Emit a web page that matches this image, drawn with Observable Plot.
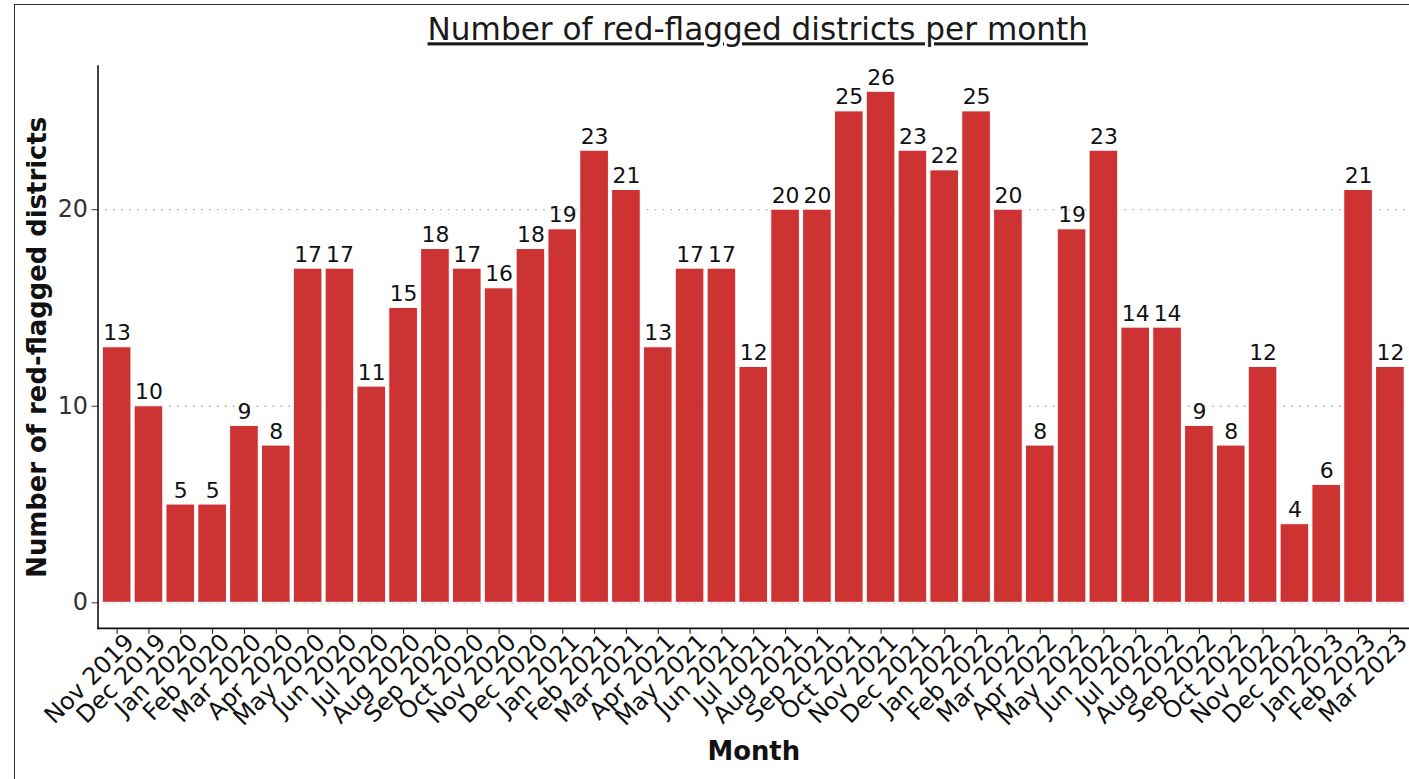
<!DOCTYPE html>
<html><head><meta charset="utf-8">
<script src="https://cdn.jsdelivr.net/npm/d3@7"></script>
<script src="https://cdn.jsdelivr.net/npm/@observablehq/plot@0.6"></script>
<style>
html,body{margin:0;padding:0;background:#fff;overflow:hidden;}
#wrap{position:relative;width:1409px;height:779px;overflow:hidden;background:#fff;}
#chart{position:absolute;left:0;top:0;}
#border{position:absolute;left:14px;top:4px;width:1500px;height:900px;border-left:1.5px solid #333;border-top:1.5px solid #333;pointer-events:none;}
</style></head>
<body><div id="wrap"><div id="chart"></div><div id="border"></div></div>
<script>
const months = ["Nov 2019","Dec 2019","Jan 2020","Feb 2020","Mar 2020","Apr 2020","May 2020","Jun 2020","Jul 2020","Aug 2020","Sep 2020","Oct 2020","Nov 2020","Dec 2020","Jan 2021","Feb 2021","Mar 2021","Apr 2021","May 2021","Jun 2021","Jul 2021","Aug 2021","Sep 2021","Oct 2021","Nov 2021","Dec 2021","Jan 2022","Feb 2022","Mar 2022","Apr 2022","May 2022","Jun 2022","Jul 2022","Aug 2022","Sep 2022","Oct 2022","Nov 2022","Dec 2022","Jan 2023","Feb 2023","Mar 2023"];
const counts = [13,10,5,5,9,8,17,17,11,15,18,17,16,18,19,23,21,13,17,17,12,20,20,25,26,23,22,25,20,8,19,23,14,14,9,8,12,4,6,21,12];
const yTicks = [0,10,20];
const title = "Number of red-flagged districts per month";
const yTitle = "Number of red-flagged districts";
const xTitle = "Month";
const barColor = "#cd3333";

const data = months.map((m, i) => ({month: m, count: counts[i]}));
const maxV = d3.max(counts);

const chart = Plot.plot({
  width: 1416, height: 779,
  marginLeft: 98, marginRight: 0, marginTop: 66, marginBottom: 148,
  style: {fontFamily: "DejaVu Sans", background: "white", overflow: "visible", color: "#111"},
  x: {domain: months, paddingInner: 0.1, paddingOuter: 0.15, label: null},
  y: {domain: [-0.05 * maxV, 1.05 * maxV], label: null},
  marks: [
    Plot.gridY(yTicks, {stroke: "#aaa", strokeOpacity: 1, strokeDasharray: "1.5,6.5", strokeWidth: 1.4}),
    Plot.barY(data, {x: "month", y: "count", fill: barColor, stroke: "white", strokeWidth: 1}),
    Plot.text(data, {x: "month", y: "count", text: d => String(d.count), lineAnchor: "bottom", dy: -7, fontSize: 22, fill: "#111"}),
    Plot.axisY({ticks: yTicks, tickSize: 6, tickPadding: 4, fontSize: 24, label: null, color: "#333"}),
    Plot.axisX({tickSize: 6, tickFormat: () => "", label: null, color: "#111"}),
    Plot.axisX({tickRotate: -45, tickSize: 0, tickPadding: 10, dx: 13, fontSize: 24, label: null, color: "#111"}),
    Plot.frame({anchor: "left", strokeWidth: 1.6, stroke: "#111"}),
    Plot.frame({anchor: "bottom", strokeWidth: 1.6, stroke: "#111"}),
    Plot.text([title], {frameAnchor: "top", dx: 4, dy: -26, lineAnchor: "bottom", fontSize: 31.3, fill: "#1a1a1a"}),
    Plot.text([yTitle], {frameAnchor: "left", rotate: -90, textAnchor: "middle", dx: -52, lineAnchor: "bottom", fontSize: 26, fontWeight: "bold", fill: "#111"}),
    Plot.text([xTitle], {frameAnchor: "bottom", dy: 132, lineAnchor: "bottom", fontSize: 26, fontWeight: "bold", fill: "#111"})
  ]
});

d3.select(chart).selectAll("text")
  .filter(function() { return this.textContent === title; })
  .style("text-decoration", "underline");

document.getElementById("chart").appendChild(chart);
</script>
</body></html>
